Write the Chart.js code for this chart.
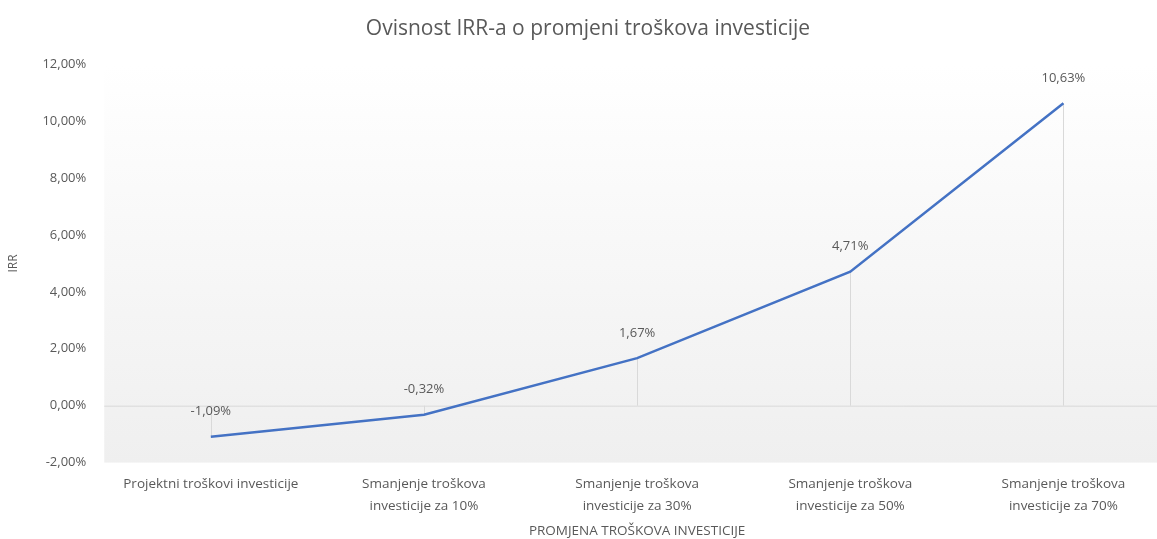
<!DOCTYPE html>
<html>
<head>
  <meta charset="utf-8">
  <title>Ovisnost IRR-a o promjeni troškova investicije</title>
  <script src="https://cdn.jsdelivr.net/npm/chart.js@4.4.0/dist/chart.umd.min.js"></script>
  <style>
    html, body { margin: 0; padding: 0; background: #fff; overflow: hidden; }
    #wrap { width: 1172px; height: 539px; }
  </style>
</head>
<body>
  <div id="wrap"><canvas id="myChart"></canvas></div>
  <script>
    // data
    const categories = [
      'Projektni troškovi investicije',
      ['Smanjenje troškova', 'investicije za 10%'],
      ['Smanjenje troškova', 'investicije za 30%'],
      ['Smanjenje troškova', 'investicije za 50%'],
      ['Smanjenje troškova', 'investicije za 70%']
    ];
    const irrValues = [-1.09, -0.32, 1.67, 4.71, 10.63];
    const yTicks = [-2, 0, 2, 4, 6, 8, 10, 12];

    const fontFam = '"Open Sans", "DejaVu Sans", sans-serif';
    const gray = '#595959';

    function pct(v) {
      return v.toFixed(2).replace('.', ',') + '%';
    }

    // plot background gradient + drop lines + value labels
    const extras = {
      id: 'extras',
      beforeDatasetsDraw(chart) {
        const { ctx, chartArea, scales } = chart;
        const g = ctx.createLinearGradient(0, chartArea.top, 0, chartArea.bottom);
        g.addColorStop(0, '#ffffff');
        g.addColorStop(1, '#efefef');
        ctx.save();
        ctx.fillStyle = g;
        ctx.fillRect(chartArea.left, chartArea.top, chartArea.right - chartArea.left, chartArea.bottom - chartArea.top);
        // zero line
        const y0 = scales.y.getPixelForValue(0);
        ctx.strokeStyle = '#d9d9d9';
        ctx.lineWidth = 1;
        ctx.beginPath();
        ctx.moveTo(chartArea.left, y0 + 0.5);
        ctx.lineTo(chartArea.right, y0 + 0.5);
        ctx.stroke();
        // drop lines
        const meta = chart.getDatasetMeta(0);
        meta.data.forEach(pt => {
          ctx.beginPath();
          ctx.moveTo(Math.round(pt.x) + 0.5, y0);
          ctx.lineTo(Math.round(pt.x) + 0.5, pt.y);
          ctx.stroke();
        });
        ctx.restore();
      },
      afterDatasetsDraw(chart) {
        const { ctx } = chart;
        const meta = chart.getDatasetMeta(0);
        ctx.save();
        ctx.fillStyle = gray;
        ctx.font = '13px ' + fontFam;
        ctx.textAlign = 'center';
        ctx.textBaseline = 'middle';
        meta.data.forEach((pt, i) => {
          ctx.fillText(pct(irrValues[i]), pt.x, pt.y - 25);
        });
        ctx.restore();
      }
    };

    new Chart(document.getElementById('myChart'), {
      type: 'line',
      data: {
        labels: categories,
        datasets: [{
          label: 'IRR',
          data: irrValues,
          borderColor: '#4472C4',
          borderWidth: 2.5,
          pointRadius: 0,
          fill: false,
          tension: 0
        }]
      },
      options: {
        responsive: true,
        maintainAspectRatio: false,
        animation: false,
        layout: { padding: { left: 6, right: 2, top: 8, bottom: 0 } },
        plugins: {
          legend: { display: false },
          tooltip: { enabled: false },
          title: {
            display: true,
            text: 'Ovisnost IRR-a o promjeni troškova investicije',
            color: gray,
            font: { family: fontFam, size: 21, weight: 'normal' },
            padding: { top: 8, bottom: 23 }
          }
        },
        scales: {
          x: {
            offset: true,
            grid: { display: false, drawTicks: false },
            border: { display: false },
            ticks: {
              color: gray,
              font: { family: fontFam, size: 13.5, lineHeight: 1.6 },
              padding: 11,
              maxRotation: 0,
              autoSkip: false
            },
            title: {
              display: true,
              text: 'PROMJENA TROŠKOVA INVESTICIJE',
              color: gray,
              font: { family: fontFam, size: 13.5 },
              padding: { top: -5, bottom: 0 }
            }
          },
          y: {
            min: -2,
            max: 12,
            afterBuildTicks(axis) {
              axis.ticks = yTicks.map(v => ({ value: v }));
            },
            grid: { display: false, drawTicks: false },
            border: { display: false },
            ticks: {
              color: gray,
              font: { family: fontFam, size: 13 },
              padding: 18,
              callback: v => pct(v)
            },
            title: {
              display: true,
              text: 'IRR',
              color: gray,
              font: { family: fontFam, size: 12 },
              padding: { top: 0, bottom: 4 }
            }
          }
        }
      },
      plugins: [extras]
    });
  </script>
</body>
</html>
